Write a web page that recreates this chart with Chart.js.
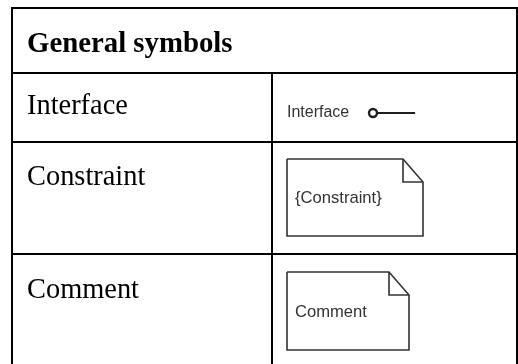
<!DOCTYPE html>
<html>
<head>
<meta charset="utf-8">
<script src="https://cdn.jsdelivr.net/npm/chart.js@4.4.1/dist/chart.umd.min.js"></script>
<style>
  html, body { margin: 0; padding: 0; background: #fff; }
  #wrap { width: 518px; height: 364px; position: relative; }
</style>
</head>
<body>
<div id="wrap"><canvas id="table_chart"></canvas></div>
<script>
// TABLE CONTENT
const headerTitle = "General symbols";
const symbolNames = ["Interface", "Constraint", "Comment"];
const symbolCaptions = ["Interface", "{Constraint}", "Comment"];

// LAYOUT (canvas units, the scales map 1:1 to pixels)
const rowEdges = [8, 73, 142, 254, 364];
const colEdges = [12, 272, 517];
const labelBaseline = [114, 185, 298];
const lollipop = { cx: 373, cy: 113, r: 4, x1: 378, x2: 414, textX: 287, textY: 117 };
const notes = [
  { x0: 287, y0: 159, x1: 423, y1: 236, fx: 20, fy: 23, textX: 295, textY: 203 },
  { x0: 287, y0: 272, x1: 409, y1: 350, fx: 20, fy: 23, textX: 295, textY: 317 },
];

function segment(points, color, width) {
  return {
    data: points.map((p) => ({ x: p[0], y: p[1] })),
    showLine: true,
    borderColor: color,
    borderWidth: width,
    borderCapStyle: "square",
    pointRadius: 0,
    tension: 0,
    fill: false,
  };
}

const datasets = [];

// table borders
const left = colEdges[0], right = colEdges[2], bottom = rowEdges[rowEdges.length - 1];
for (let i = 0; i < rowEdges.length - 1; i++) {
  datasets.push(segment([[left, rowEdges[i]], [right, rowEdges[i]]], "#000", 2));
}
datasets.push(segment([[left, rowEdges[0]], [left, bottom]], "#000", 2));
datasets.push(segment([[right, rowEdges[0]], [right, bottom]], "#000", 2));
datasets.push(segment([[colEdges[1], rowEdges[1]], [colEdges[1], bottom]], "#000", 2));

// interface lollipop
datasets.push(segment([[lollipop.x1, lollipop.cy], [lollipop.x2, lollipop.cy]], "#1e1e1e", 2.2));
datasets.push({
  data: [{ x: lollipop.cx, y: lollipop.cy }],
  pointRadius: lollipop.r,
  pointBorderWidth: 2.4,
  pointBorderColor: "#1e1e1e",
  pointBackgroundColor: "#fff",
});

// note shapes
notes.forEach((n) => {
  const outline = segment([
    [n.x0, n.y0], [n.x1 - n.fx, n.y0], [n.x1, n.y0 + n.fy],
    [n.x1, n.y1], [n.x0, n.y1], [n.x0, n.y0],
  ], "#333", 1.6);
  outline.borderCapStyle = "butt";
  outline.borderJoinStyle = "miter";
  datasets.push(outline);
  const fold = segment([[n.x1 - n.fx, n.y0], [n.x1 - n.fx, n.y0 + n.fy], [n.x1, n.y0 + n.fy]], "#333", 1.6);
  fold.borderCapStyle = "butt";
  datasets.push(fold);
});

// TEXT PLUGIN
const tableText = {
  id: "tableText",
  afterDatasetsDraw(chart) {
    const { ctx, scales } = chart;
    const px = (v) => scales.x.getPixelForValue(v);
    const py = (v) => scales.y.getPixelForValue(v);
    ctx.save();
    ctx.textBaseline = "alphabetic";
    ctx.textAlign = "left";
    ctx.fillStyle = "#000";
    ctx.font = "bold 28.8px 'Liberation Serif'";
    ctx.fillText(headerTitle, px(27), py(52));
    ctx.font = "28.4px 'Liberation Serif'";
    symbolNames.forEach((name, i) => {
      ctx.fillText(name, px(27), py(labelBaseline[i]));
    });
    ctx.fillStyle = "#333";
    ctx.font = "16px 'Liberation Sans'";
    ctx.fillText(symbolCaptions[0], px(lollipop.textX), py(lollipop.textY));
    ctx.font = "16.6px 'Liberation Sans'";
    notes.forEach((n, i) => {
      ctx.fillText(symbolCaptions[i + 1], px(n.textX), py(n.textY));
    });
    ctx.restore();
  },
};

new Chart(document.getElementById("table_chart"), {
  type: "scatter",
  data: { datasets },
  options: {
    responsive: true,
    maintainAspectRatio: false,
    animation: false,
    events: [],
    layout: { padding: 0, autoPadding: false },
    plugins: { legend: { display: false }, tooltip: { enabled: false } },
    scales: {
      x: { type: "linear", min: 0, max: 518, display: false },
      y: { type: "linear", min: 0, max: 364, reverse: true, display: false },
    },
  },
  plugins: [tableText],
});
</script>
</body>
</html>
